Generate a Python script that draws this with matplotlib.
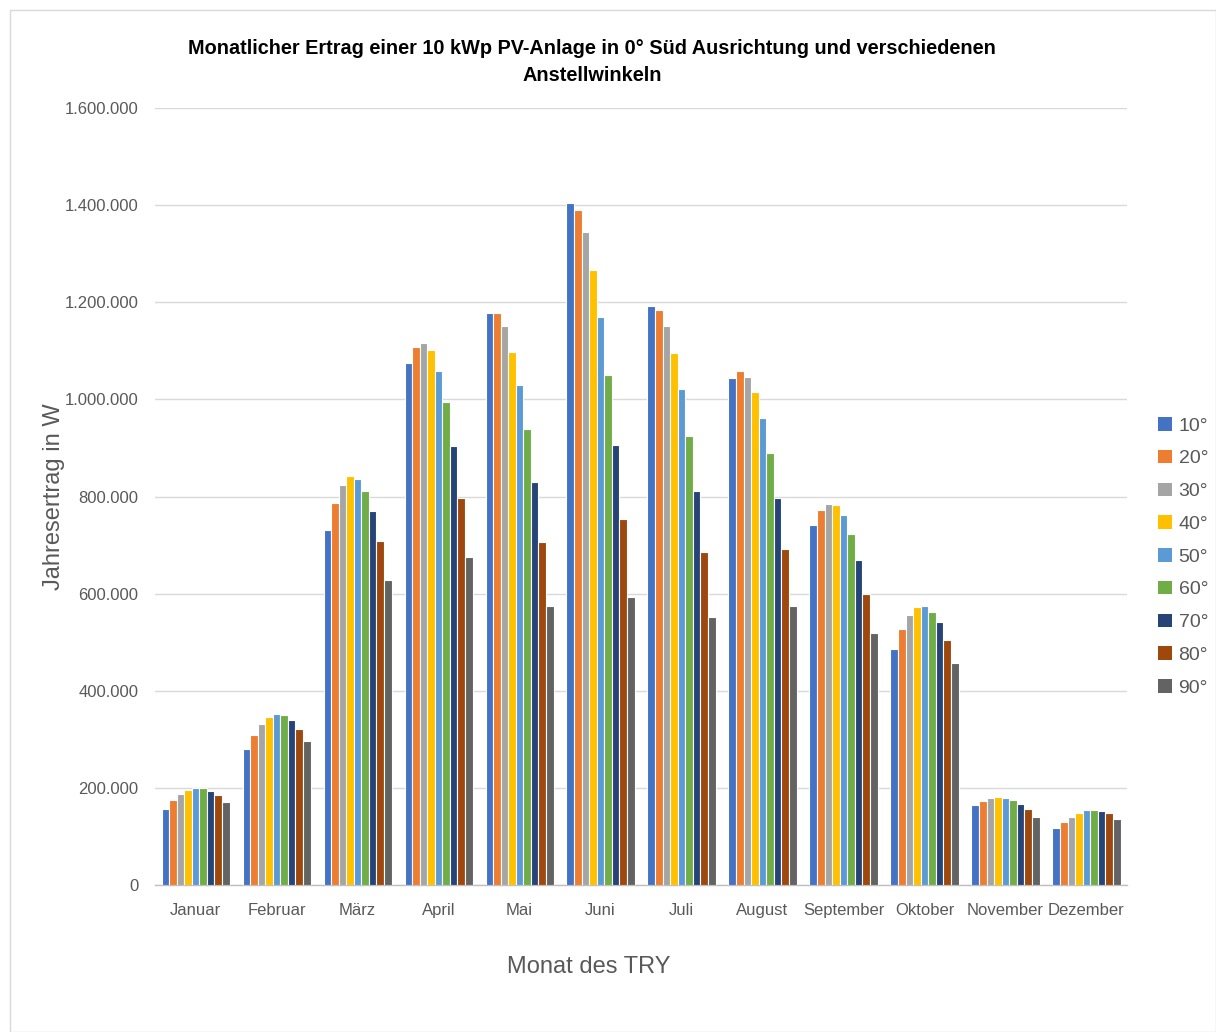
import matplotlib
matplotlib.use("Agg")
import matplotlib.pyplot as plt
import numpy as np
from matplotlib.ticker import FuncFormatter
from matplotlib.patches import Rectangle, Patch

plt.rcParams['font.family'] = ['Liberation Sans', 'DejaVu Sans']

months = ["Januar", "Februar", "März", "April", "Mai", "Juni", "Juli",
          "August", "September", "Oktober", "November", "Dezember"]
angles = ["10°", "20°", "30°", "40°", "50°", "60°", "70°", "80°", "90°"]

# Monthly yield in W per tilt angle
yield_10 = [156000, 281000, 731000, 1074000, 1177000, 1404000, 1193000, 1045000, 741000, 487000, 165000, 117000]
yield_20 = [175000, 310000, 786000, 1108000, 1177000, 1390000, 1185000, 1058000, 772000, 528000, 174000, 130000]
yield_30 = [187000, 332000, 824000, 1117000, 1151000, 1344000, 1152000, 1047000, 785000, 556000, 180000, 141000]
yield_40 = [196000, 346000, 842000, 1102000, 1098000, 1266000, 1095000, 1016000, 782000, 572000, 181000, 148000]
yield_50 = [199000, 353000, 837000, 1058000, 1030000, 1170000, 1021000, 962000, 761000, 575000, 180000, 154000]
yield_60 = [199000, 351000, 812000, 994000, 939000, 1050000, 925000, 890000, 722000, 563000, 176000, 154000]
yield_70 = [194000, 340000, 770000, 905000, 830000, 907000, 811000, 797000, 669000, 541000, 167000, 153000]
yield_80 = [185000, 322000, 708000, 798000, 706000, 754000, 686000, 692000, 600000, 504000, 156000, 148000]
yield_90 = [171000, 296000, 629000, 675000, 574000, 593000, 552000, 575000, 519000, 457000, 141000, 137000]

series = [yield_10, yield_20, yield_30, yield_40, yield_50,
          yield_60, yield_70, yield_80, yield_90]
colors = ["#4472C4", "#ED7D31", "#A5A5A5", "#FFC000", "#5B9BD5",
          "#70AD47", "#264478", "#9E480E", "#636363"]

fig = plt.figure(figsize=(12.16, 10.32), dpi=100)
fig.patch.set_facecolor("white")
# thin outer chart frame
fig.add_artist(Rectangle((10 / 1216, 0), 1 - 10 / 1216, 1 - 10 / 1032,
                         transform=fig.transFigure, fill=False,
                         edgecolor="#D9D9D9", linewidth=1.0))

ax = fig.add_axes([0.1275, 0.1424, 0.7993, 0.7529])

n = len(series)
group_w = 0.84
bw = group_w / n
x = np.arange(len(months))
for i, (vals, col) in enumerate(zip(series, colors)):
    offs = -group_w / 2 + bw * (i + 0.5)
    ax.bar(x + offs, vals, width=bw, color=col, edgecolor="white",
           linewidth=0.8, label=angles[i], zorder=3)

ax.set_xlim(-0.5, len(months) - 0.5)
ax.set_ylim(0, 1600000)
ax.set_yticks(np.arange(0, 1600001, 200000))
ax.yaxis.set_major_formatter(FuncFormatter(lambda v, p: f"{int(v):,}".replace(",", ".")))
ax.grid(axis="y", color="#D9D9D9", linewidth=1.0, zorder=0)
for s in ["top", "right", "left"]:
    ax.spines[s].set_visible(False)
ax.spines["bottom"].set_color("#BFBFBF")
ax.spines["bottom"].set_linewidth(1.0)
ax.tick_params(axis="both", length=0, colors="#595959", labelsize=12)
ax.tick_params(axis="y", pad=12)
ax.tick_params(axis="x", pad=13)
ax.set_xticks(x)
ax.set_xticklabels(months)

ax.set_ylabel("Jahresertrag in W", fontsize=17, color="#595959", labelpad=0)
ax.yaxis.set_label_coords(-0.093, 0.5)
fig.text(589 / 1216, 1 - 967 / 1032, "Monat des TRY", ha="center", va="center",
         fontsize=17, color="#595959")

fig.text(592 / 1216, 1 - 62 / 1032, "Monatlicher Ertrag einer 10 kWp PV-Anlage in 0° Süd Ausrichtung und verschiedenen\nAnstellwinkeln",
         ha="center", va="center", fontsize=14.3, fontweight="bold",
         color="black", linespacing=1.5)

handles = [Patch(facecolor=c, edgecolor="none") for c in colors]
fig.legend(handles, angles, loc="upper left", bbox_to_anchor=(0.946, 0.6035),
           frameon=False, fontsize=14, labelcolor="#595959",
           handlelength=0.7, handleheight=0.7, handletextpad=0.35,
           labelspacing=0.78, borderaxespad=0)

fig.savefig("out.png", dpi=100, facecolor="white")
